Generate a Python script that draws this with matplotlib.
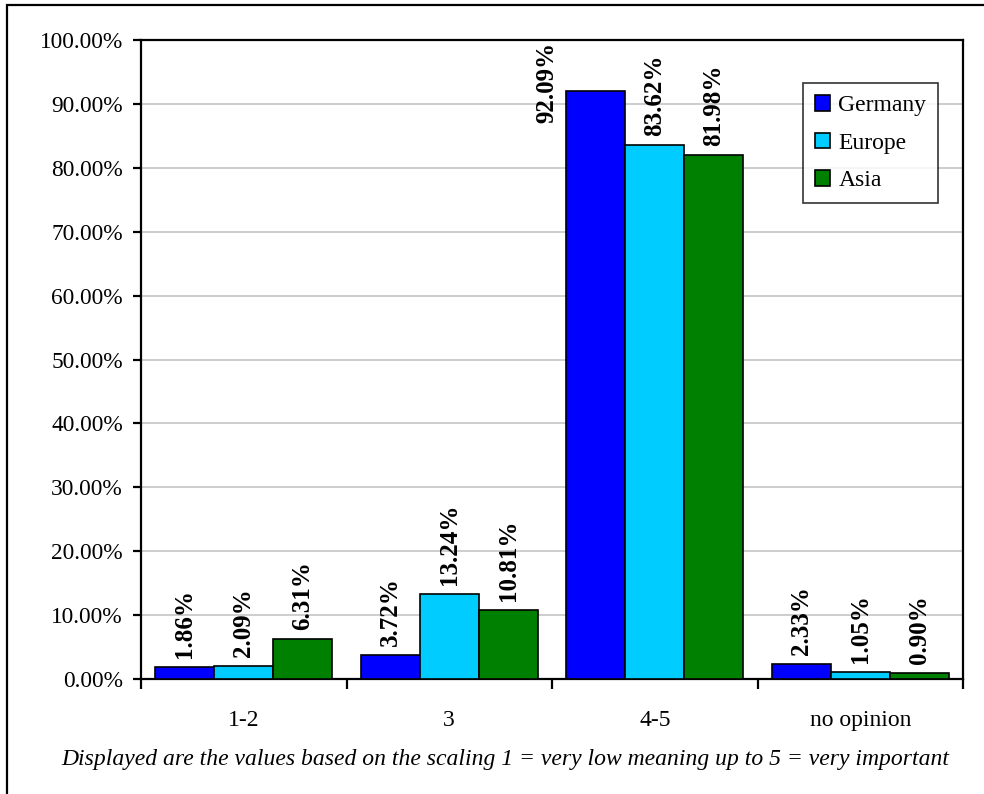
import matplotlib
matplotlib.use("Agg")
import matplotlib.pyplot as plt
import numpy as np
from matplotlib.patches import Rectangle
from matplotlib.ticker import FixedLocator, NullFormatter

plt.rcParams['font.family'] = ['Liberation Serif', 'DejaVu Serif']

categories = ['1-2', '3', '4-5', 'no opinion']
series_names = ['Germany', 'Europe', 'Asia']
germany = [1.86, 3.72, 92.09, 2.33]
europe = [2.09, 13.24, 83.62, 1.05]
asia = [6.31, 10.81, 81.98, 0.90]
colors = ['#0000FF', '#00CCFF', '#008000']

W, H = 984, 794
fig = plt.figure(figsize=(W / 100, H / 100), dpi=100)

# outer chart frame
fig.patches.append(Rectangle((7 / W, -0.05), 1.1, 1 - 5 / H + 0.05,
                             transform=fig.transFigure, fill=False,
                             edgecolor='black', linewidth=1.6))

ax = fig.add_axes([141 / W, (H - 679) / H, (963 - 141) / W, (679 - 40) / H])

n = len(categories)
x = np.arange(n)
bw = 0.287
values = [germany, europe, asia]
for i, (name, vals, col) in enumerate(zip(series_names, values, colors)):
    pos = x + (i - 1) * bw
    ax.bar(pos, vals, width=bw, color=col, edgecolor='black', linewidth=1.2,
           label=name, zorder=3)
    for p, v in zip(pos, vals):
        txt = f'{v:.2f}%'
        if v > 88:
            ax.annotate(txt, xy=(p - bw / 2, 100), xytext=(-6, -1),
                        textcoords='offset points', rotation=90,
                        ha='right', va='top', fontsize=18, fontweight='bold')
        else:
            ax.annotate(txt, xy=(p, v), xytext=(0, 6.5),
                        textcoords='offset points', rotation=90,
                        ha='center', va='bottom', fontsize=18, fontweight='bold')

ax.set_xlim(-0.5, n - 0.5)
ax.set_ylim(0, 100)
yt = np.arange(0, 101, 10)
ax.set_yticks(yt)
ax.set_yticklabels([f'{t:.2f}%' for t in yt], fontsize=16.8)
ax.yaxis.grid(True, color='#c0c0c0', linewidth=1.1, zorder=0)
ax.set_axisbelow(True)

ax.set_xticks(x)
ax.set_xticklabels(categories, fontsize=17)
ax.tick_params(axis='x', which='major', length=0, pad=22)
ax.xaxis.set_minor_locator(FixedLocator(np.arange(-0.5, n, 1.0)))
ax.xaxis.set_minor_formatter(NullFormatter())
ax.tick_params(axis='x', which='minor', length=7, width=1.6, direction='out')
ax.tick_params(axis='y', length=6, width=1.6, direction='out', pad=7)

for s in ax.spines.values():
    s.set_linewidth(1.6)
    s.set_color('black')

leg = ax.legend(loc='upper left', bbox_to_anchor=(803 / W, 1 - 83 / H),
                bbox_transform=fig.transFigure, fontsize=17, frameon=True,
                fancybox=False, edgecolor='black', handlelength=0.65,
                handleheight=0.65, handletextpad=0.35, borderpad=0.5,
                labelspacing=0.7, borderaxespad=0)
leg.get_frame().set_linewidth(1.2)

fig.text(505 / W, 1 - 759 / H,
         'Displayed are the values based on the scaling 1 = very low meaning up to 5 = very important',
         ha='center', va='center', fontsize=17, style='italic')

fig.savefig('out.png', dpi=100)
